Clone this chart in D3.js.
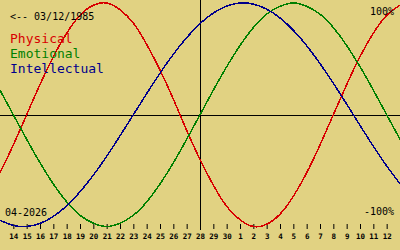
<!DOCTYPE html>
<html>
<head>
<meta charset="utf-8">
<script src="https://cdn.jsdelivr.net/npm/d3@7"></script>
<style>
  html, body { margin: 0; padding: 0; background: #e1d282; }
  svg { display: block; }
  .axis text { font-family: "DejaVu Sans Mono", monospace; font-size: 7.5px; font-weight: bold; fill: #000; }
  .axis line { stroke: #000; }
</style>
</head>
<body>
<div id="chart"></div>
<script>
// days shown on the axis (index 0..28), curves run one day past each edge
const dayLabels = ["14", "15", "16", "17", "18", "19", "20", "21", "22", "23", "24", "25", "26", "27",
  "28", "29", "30", "1", "2", "3", "4", "5", "6", "7", "8", "9", "10", "11", "12"];

// values from day index -1 to 29
const physical = [-0.52, -0.27, 0, 0.27, 0.52, 0.73, 0.89, 0.98, 1.00, 0.94, 0.82, 0.63, 0.40, 0.14,
  -0.14, -0.40, -0.63, -0.82, -0.94, -1.00, -0.98, -0.89, -0.73, -0.52, -0.27, 0, 0.27, 0.52, 0.73, 0.89, 0.98];
const emotional = [0.22, 0, -0.22, -0.43, -0.62, -0.78, -0.90, -0.97, -1.00, -0.97, -0.90, -0.78, -0.62, -0.43,
  -0.22, 0, 0.22, 0.43, 0.62, 0.78, 0.90, 0.97, 1.00, 0.97, 0.90, 0.78, 0.62, 0.43, 0.22, 0, -0.22];
const intellectual = [-0.945, -0.99, -1.00, -0.972, -0.91, -0.815, -0.69, -0.541, -0.372, -0.189, 0, 0.189,
  0.372, 0.541, 0.69, 0.815, 0.91, 0.972, 1.00, 0.99, 0.945, 0.866, 0.756, 0.618, 0.458, 0.282, 0.095,
  -0.095, -0.282, -0.458, -0.618];

const seriesNames = ["Physical", "Emotional", "Intellectual"];
const seriesColors = ["#d80000", "#008000", "#00008c"];
const birthLabel = "<-- 03/12/1985";
const monthLabel = "04-2026";
const todayIndex = 14;

const width = 400;
const height = 250;

const svg = d3.select("#chart")
  .append("svg")
  .attr("width", width)
  .attr("height", height);

svg.append("rect")
  .attr("width", width)
  .attr("height", height)
  .attr("fill", "#e1d282");

// x: day index -1 .. 29 across the full width
const xScale = d3.scaleLinear()
  .domain([-1, 29])
  .range([0, width]);

const yScale = d3.scaleLinear()
  .domain([-1, 1])
  .range([226.5, 3]);

// zero line and today line
svg.append("line")
  .attr("x1", 0).attr("x2", width)
  .attr("y1", Math.round(yScale(0)) + 0.5).attr("y2", Math.round(yScale(0)) + 0.5)
  .attr("stroke", "#000");

svg.append("line")
  .attr("x1", Math.round(xScale(todayIndex)) + 0.5).attr("x2", Math.round(xScale(todayIndex)) + 0.5)
  .attr("y1", 0).attr("y2", 230)
  .attr("stroke", "#000");

// day ticks
const xAxis = d3.axisBottom(xScale)
  .tickValues(d3.range(dayLabels.length))
  .tickFormat(i => dayLabels[i])
  .tickSize(5)
  .tickPadding(5);

svg.append("g")
  .attr("class", "axis")
  .attr("transform", "translate(0, 224)")
  .call(xAxis)
  .call(g => g.select(".domain").remove());

// curves
const line = d3.line()
  .x((d, i) => xScale(i - 1))
  .y(d => yScale(d))
  .curve(d3.curveNatural);

[physical, emotional, intellectual].forEach((values, k) => {
  svg.append("path")
    .datum(values)
    .attr("fill", "none")
    .attr("stroke", seriesColors[k])
    .attr("stroke-width", 1.5)
    .attr("shape-rendering", "crispEdges")
    .attr("d", line);
});

// labels
const mono = "'DejaVu Sans Mono', monospace";

svg.append("text")
  .attr("x", 10).attr("y", 20)
  .attr("font-family", mono).attr("font-size", 10)
  .text(birthLabel);

svg.selectAll(".legend")
  .data(seriesNames)
  .join("text")
  .attr("class", "legend")
  .attr("x", 10)
  .attr("y", (d, i) => 43 + i * 15)
  .attr("font-family", mono).attr("font-size", 13)
  .attr("fill", (d, i) => seriesColors[i])
  .text(d => d);

svg.append("text")
  .attr("x", 394).attr("y", 15)
  .attr("text-anchor", "end")
  .attr("font-family", mono).attr("font-size", 10)
  .text("100%");

svg.append("text")
  .attr("x", 394).attr("y", 215)
  .attr("text-anchor", "end")
  .attr("font-family", mono).attr("font-size", 10)
  .text("-100%");

svg.append("text")
  .attr("x", 5).attr("y", 216)
  .attr("font-family", mono).attr("font-size", 10)
  .text(monthLabel);
</script>
</body>
</html>
